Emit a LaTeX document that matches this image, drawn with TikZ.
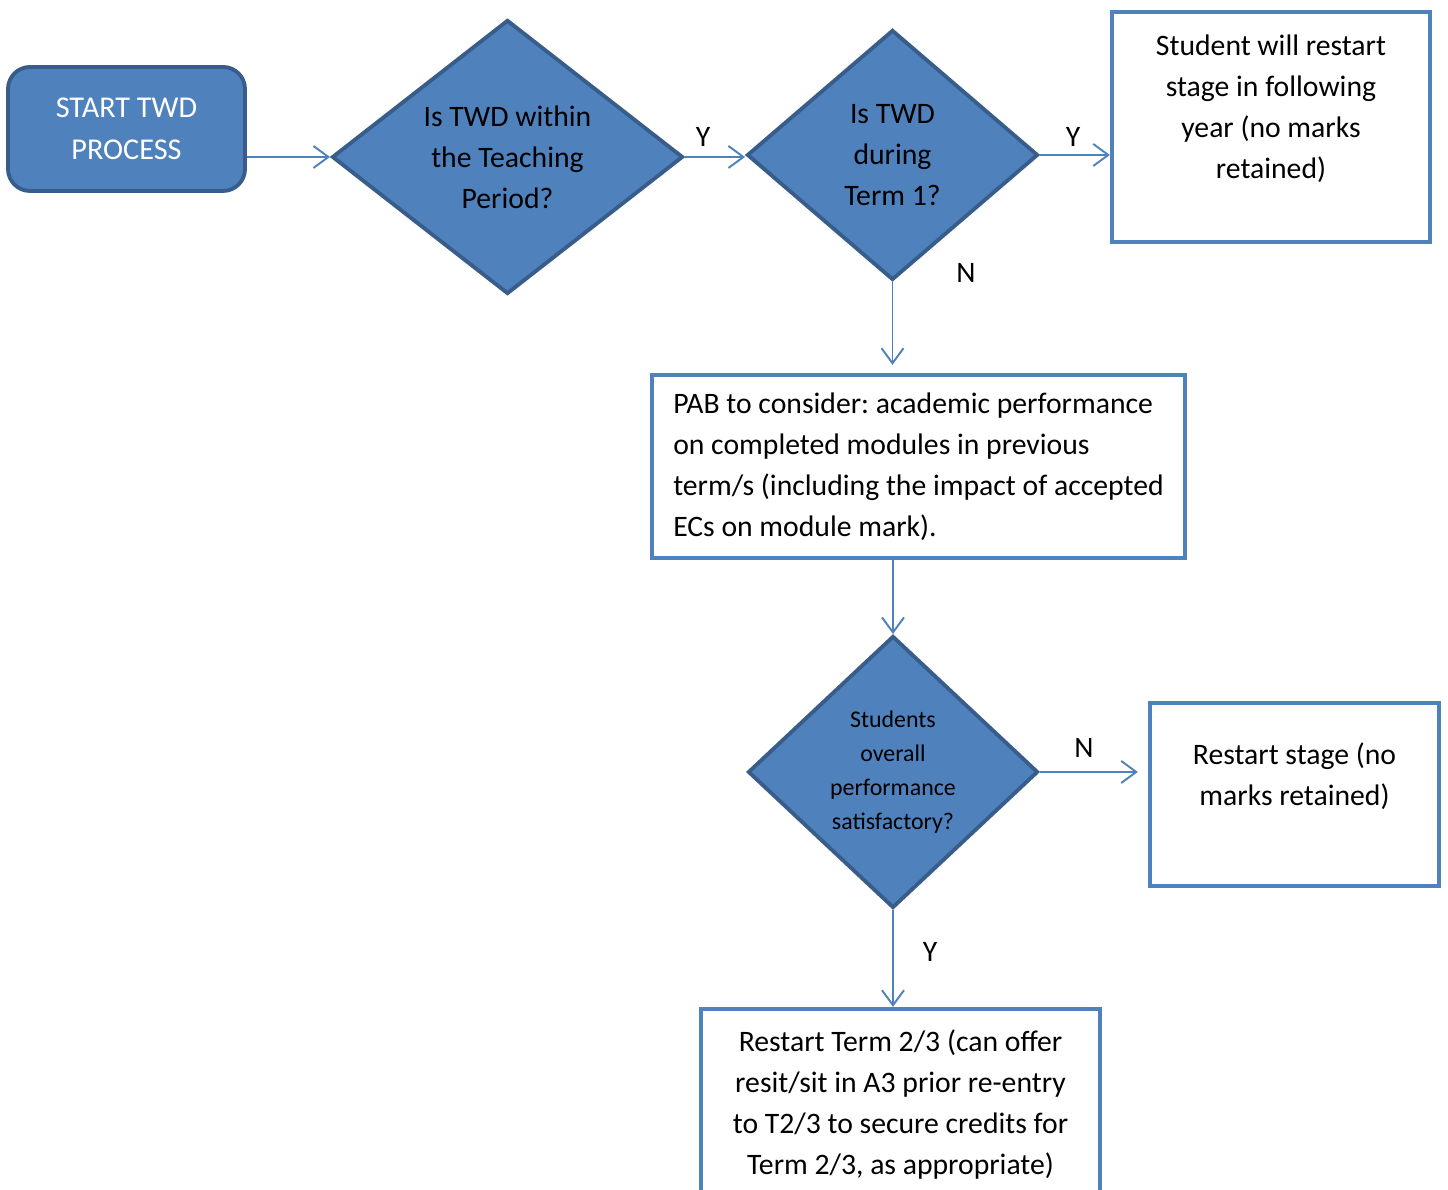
\documentclass[tikz,border=0pt]{standalone}
\usepackage{fontspec}
\setmainfont{Carlito}
\usetikzlibrary{shapes.geometric,arrows.meta}
\definecolor{boxblue}{HTML}{4F81BD}
\definecolor{edgeblue}{HTML}{385D8A}
\frenchspacing
\begin{document}
\begin{tikzpicture}[
  decision/.style={diamond, draw=edgeblue, fill=boxblue, line width=1.1pt, inner sep=0pt, align=center, font=\fontsize{8.45}{11.7}\selectfont},
  outcome/.style={rectangle, draw=boxblue, line width=1.2pt, align=center, font=\fontsize{8.45}{11.7}\selectfont},
  flow/.style={draw=boxblue, line width=0.55pt, -{Straight Barb[length=1.5mm,width=2.2mm]}},
  answer/.style={font=\fontsize{8.45}{11.7}\selectfont, inner sep=0pt}
]
\clip (0,0) rectangle (14.48,11.9);

\node[rectangle, rounded corners=0.22cm, draw=edgeblue, fill=boxblue, line width=1.1pt, text=white,
      minimum width=2.37cm, minimum height=1.24cm, align=center, font=\fontsize{8.6}{11.9}\selectfont]
      (start) at (1.265,10.61) {START TWD\\PROCESS};

\node[decision, minimum width=3.51cm, minimum height=2.74cm] (teaching) at (5.075,10.33)
      {Is TWD within\\the Teaching\\Period?};
\node[decision, minimum width=2.91cm, minimum height=2.50cm] (term) at (8.925,10.35)
      {Is TWD\\during\\Term 1?};
\node[outcome, minimum width=3.18cm, minimum height=2.30cm] (nextyear) at (12.71,10.63)
      {Student will restart\\stage in following\\year (no marks\\retained)\\~};

\node[outcome, minimum width=5.33cm, minimum height=1.83cm, align=left] (pab) at (9.185,7.235)
      {PAB to consider: academic performance\\on completed modules in previous\\term/s (including the impact of accepted\\ECs on module mark).};

\node[decision, minimum width=2.90cm, minimum height=2.72cm, font=\fontsize{6.8}{9.7}\selectfont] (overall) at (8.93,4.18)
      {Students\\overall\\performance\\satisfactory?};
\node[outcome, minimum width=2.89cm, minimum height=1.83cm] (stage) at (12.945,3.955)
      {Restart stage (no\\marks retained)\\~};
\node[outcome, minimum width=3.99cm, minimum height=1.91cm] (resume) at (9.005,0.855)
      {Restart Term 2/3 (can offer\\resit/sit in A3 prior re-entry\\to T2/3 to secure credits for\\Term 2/3, as appropriate)};

% connectors
\draw[flow] (start.east |- teaching.west) -- (teaching.west);
\draw[flow] (teaching.east) -- (teaching.east -| term.west);
\draw[flow] (term.east) -- (term.east -| nextyear.west);
\draw[flow, shorten >=0.08cm] (term.south) -- (term.south |- pab.north);
\draw[flow] (overall.north |- pab.south) -- (overall.north);
\draw[flow, shorten >=0.1cm] (overall.east) -- (overall.east -| stage.west);
\draw[flow] (overall.south) -- (overall.south |- resume.north);

% answers
\node[answer] (yesterm) at (7.03,10.53) {Y};
\node[answer] (yesyear) at (10.73,10.53) {Y};
\node[answer] (noterm) at (9.66,9.17) {N};
\node[answer] (nostage) at (10.84,4.42) {N};
\node[answer] (yesresume) at (9.30,2.38) {Y};
\end{tikzpicture}
\end{document}
